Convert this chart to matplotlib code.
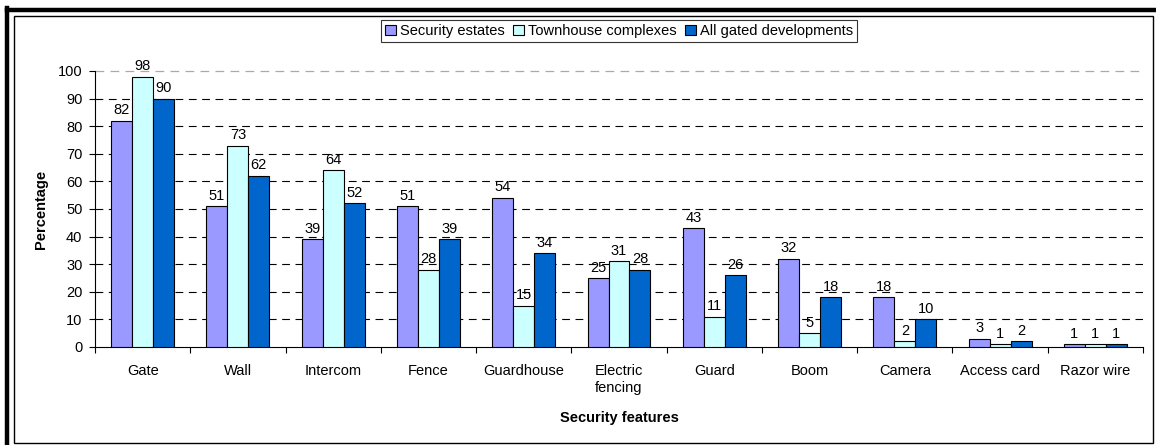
import matplotlib
matplotlib.use("Agg")
import matplotlib.pyplot as plt
import numpy as np
from matplotlib.lines import Line2D
from matplotlib.patches import Rectangle

plt.rcParams['font.family'] = ['Liberation Sans', 'DejaVu Sans']

categories = ["Gate", "Wall", "Intercom", "Fence", "Guardhouse", "Electric\nfencing",
              "Guard", "Boom", "Camera", "Access card", "Razor wire"]
security_estates = [82, 51, 39, 51, 54, 25, 43, 32, 18, 3, 1]
townhouse_complexes = [98, 73, 64, 28, 15, 31, 11, 5, 2, 1, 1]
all_gated = [90, 62, 52, 39, 34, 28, 26, 18, 10, 2, 1]
series_names = ["Security estates", "Townhouse complexes", "All gated developments"]
colors = ["#9999FF", "#CCFFFF", "#0066CC"]
yticks = [0, 10, 20, 30, 40, 50, 60, 70, 80, 90, 100]

FS = 10.5
W, H = 1156, 445
fig = plt.figure(figsize=(W/100, H/100), dpi=100)

# Borders
fig.add_artist(Line2D([6.5/W, 6.5/W], [0, 1-8/H], color='black', lw=3.2))
fig.add_artist(Line2D([6.5/W, 1], [1-10/H, 1-10/H], color='black', lw=3.2))
fig.add_artist(Rectangle((14/W, 1-443/H), (1152.5-14)/W, (443-16)/H,
                         transform=fig.transFigure, fill=False, ec='black', lw=1.0))

ax = fig.add_axes([95/W, 1-347/H, (1143-95)/W, (347-71)/H])
x = np.arange(len(categories))
bw = 0.22
data = [security_estates, townhouse_complexes, all_gated]
for i, (vals, c, name) in enumerate(zip(data, colors, series_names)):
    pos = x + (i-1)*bw
    ax.bar(pos, vals, width=bw, color=c, edgecolor='black', linewidth=0.8,
           label=name, zorder=3)
    for p, v in zip(pos, vals):
        ax.annotate(str(v), (p, v), xytext=(0, 2.5), textcoords='offset points',
                    ha='center', va='bottom', fontsize=FS, clip_on=False, zorder=4)

ax.set_xlim(-0.5, len(categories)-0.5)
ax.set_ylim(0, 100)
ax.set_yticks(yticks)
ax.tick_params(axis='y', labelsize=FS, length=4, width=0.8, pad=5)
for t in yticks[1:-1]:
    ax.axhline(t, color='black', lw=0.8, ls=(0, (7, 5)), zorder=1)
ax.axhline(100, color='#AAAAAA', lw=0.9, ls=(0, (7, 5)), zorder=1, clip_on=False)

ax.set_xticks(x)
ax.set_xticklabels(categories, fontsize=FS, linespacing=1.2)
ax.tick_params(axis='x', which='major', length=0, pad=12.5)
ax.set_xticks(np.arange(len(categories)+1)-0.5, minor=True)
ax.tick_params(axis='x', which='minor', length=4, width=0.8)

for s in ['top', 'right']:
    ax.spines[s].set_visible(False)
ax.spines['left'].set_linewidth(0.8)
ax.spines['bottom'].set_linewidth(0.8)

ax.set_ylabel("Percentage", fontsize=FS, fontweight='bold', labelpad=7)
ax.set_xlabel("Security features", fontsize=FS, fontweight='bold', labelpad=12)

leg = fig.legend(loc='center', bbox_to_anchor=(619/W, 1-31/H), ncol=3, fontsize=FS,
                 frameon=True, fancybox=False, edgecolor='black', handlelength=0.75,
                 handleheight=0.75, handletextpad=0.3, columnspacing=0.55,
                 borderpad=0.25, borderaxespad=0)
leg.get_frame().set_linewidth(0.8)

fig.savefig("out.png", dpi=100)
